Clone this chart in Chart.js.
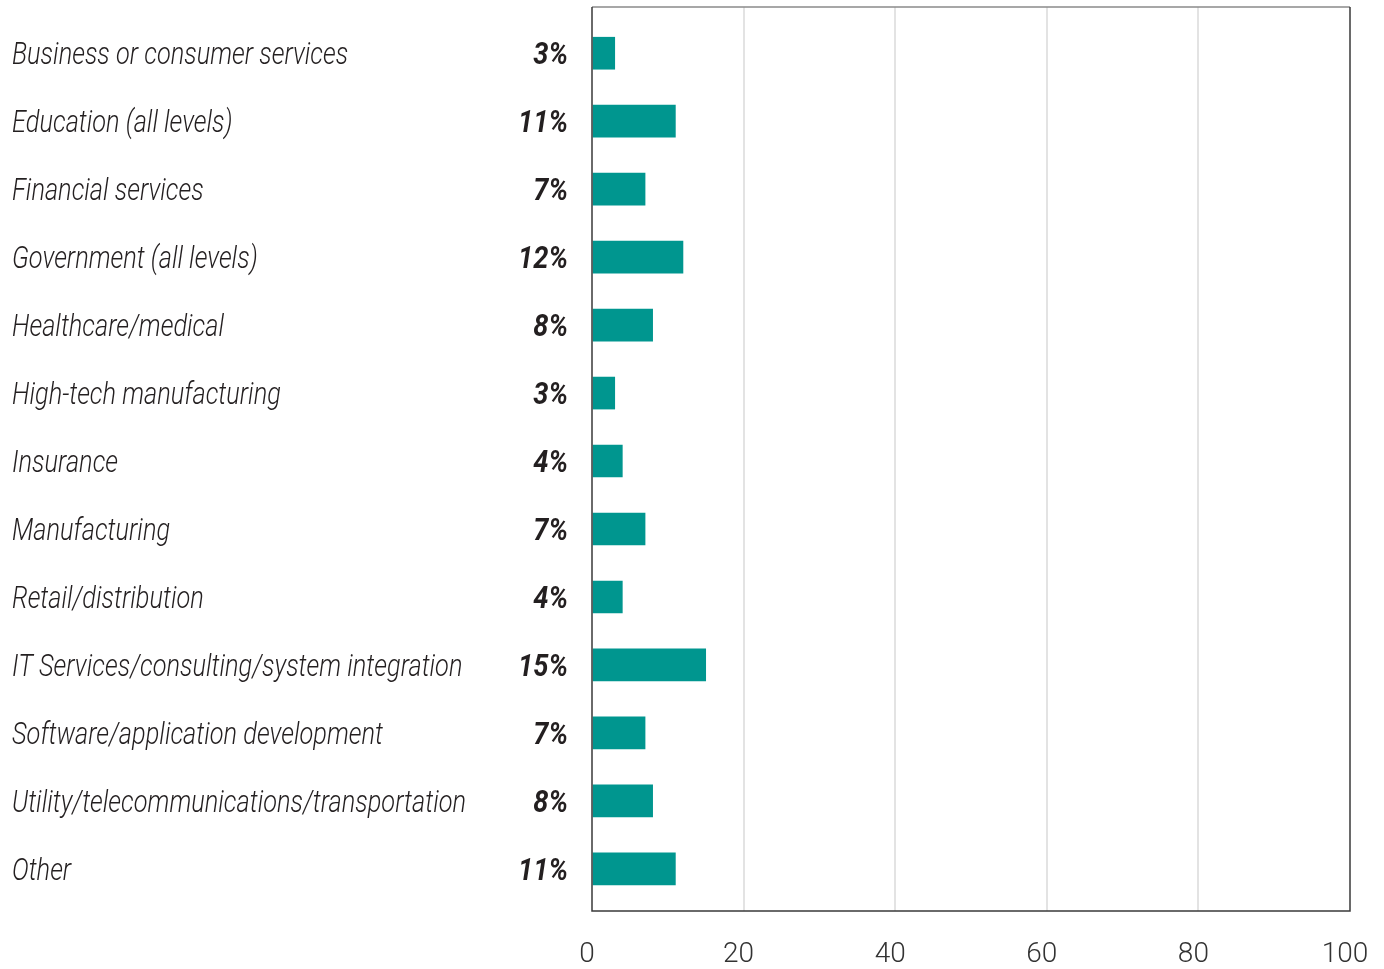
<!DOCTYPE html>
<html>
<head>
<meta charset="utf-8">
<script src="https://cdn.jsdelivr.net/npm/chart.js@4/dist/chart.umd.min.js"></script>
<style>
  html, body { margin: 0; padding: 0; background: #fff; }
  #wrap { width: 1384px; height: 969px; }
</style>
</head>
<body>
<div id="wrap"><canvas id="industryChart" width="1384" height="969"></canvas></div>
<script>
const categories = [
  'Business or consumer services',
  'Education (all levels)',
  'Financial services',
  'Government (all levels)',
  'Healthcare/medical',
  'High-tech manufacturing',
  'Insurance',
  'Manufacturing',
  'Retail/distribution',
  'IT Services/consulting/system integration',
  'Software/application development',
  'Utility/telecommunications/transportation',
  'Other'
];
const shares = [3, 11, 7, 12, 8, 3, 4, 7, 4, 15, 7, 8, 11];
const xTicks = [0, 20, 40, 60, 80, 100];

const barColor = '#00968f';
const textColor = '#231f20';

// Left-hand labels: category name plus bold percentage, squeezed horizontally
// so the text reads like a condensed face.
const rowLabels = {
  id: 'rowLabels',
  afterDraw(chart) {
    const ctx = chart.ctx;
    const yScale = chart.scales.y;
    ctx.save();
    ctx.fillStyle = textColor;
    ctx.textBaseline = 'alphabetic';

    ctx.font = 'italic 300 31px Roboto';
    const widest = Math.max(...categories.map(c => ctx.measureText(c).width));
    const nameSqueeze = 454 / widest;

    categories.forEach((name, i) => {
      const y = yScale.getPixelForValue(i) + 11;
      ctx.save();
      ctx.translate(12, y);
      ctx.scale(nameSqueeze, 1);
      ctx.textAlign = 'left';
      ctx.fillText(name, 0, 0);
      ctx.restore();
    });

    ctx.font = 'italic 700 31px Roboto';
    const valSqueeze = 50 / ctx.measureText('15%').width;
    shares.forEach((v, i) => {
      const y = yScale.getPixelForValue(i) + 11;
      ctx.save();
      ctx.translate(568, y);
      ctx.scale(valSqueeze, 1);
      ctx.textAlign = 'right';
      ctx.fillText(v + '%', 0, 0);
      ctx.restore();
    });
    ctx.restore();
  }
};

// Dark frame around the plot area
const plotFrame = {
  id: 'plotFrame',
  afterDatasetsDraw(chart) {
    const { ctx, chartArea } = chart;
    ctx.save();
    ctx.lineWidth = 1.5;
    ctx.strokeStyle = '#8a8a8a';
    ctx.beginPath();
    ctx.moveTo(chartArea.left, chartArea.top);
    ctx.lineTo(chartArea.right, chartArea.top);
    ctx.stroke();
    ctx.strokeStyle = '#3a3a3a';
    ctx.beginPath();
    ctx.moveTo(chartArea.right, chartArea.top);
    ctx.lineTo(chartArea.right, chartArea.bottom);
    ctx.lineTo(chartArea.left, chartArea.bottom);
    ctx.lineTo(chartArea.left, chartArea.top);
    ctx.stroke();
    ctx.restore();
  }
};

new Chart(document.getElementById('industryChart'), {
  type: 'bar',
  data: {
    datasets: [{
      data: shares.map((v, i) => ({ x: v, y: i })),
      backgroundColor: barColor,
      borderWidth: 0,
      barThickness: 32
    }]
  },
  options: {
    indexAxis: 'y',
    responsive: false,
    animation: false,
    layout: { padding: { left: 592, right: 34, top: 7, bottom: 0 } },
    plugins: {
      legend: { display: false },
      tooltip: { enabled: false }
    },
    scales: {
      x: {
        type: 'linear',
        min: 0,
        max: 100,
        afterBuildTicks(scale) {
          scale.ticks = xTicks.map(v => ({ value: v }));
        },
        afterFit(scale) {
          scale.height = 58;
          scale.paddingLeft = 0;
          scale.paddingRight = 0;
        },
        border: { display: false },
        grid: {
          drawTicks: false,
          lineWidth: 2,
          color: ctx => (ctx.tick && (ctx.tick.value === 0 || ctx.tick.value === 100)) ? 'rgba(0,0,0,0)' : '#e3e3e3'
        },
        ticks: {
          padding: 27,
          labelOffset: -5,
          color: '#333',
          maxRotation: 0,
          font: { family: 'Roboto', weight: '300', size: 28 }
        }
      },
      y: {
        type: 'linear',
        display: false,
        offset: false,
        reverse: true,
        min: -0.68,
        max: 12.62
      }
    }
  },
  plugins: [rowLabels, plotFrame]
});
</script>
</body>
</html>
